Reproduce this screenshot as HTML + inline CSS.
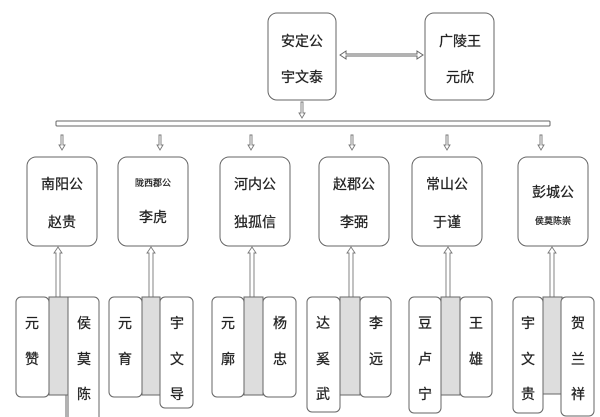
<!DOCTYPE html><html><head><meta charset="utf-8"><style>body{margin:0;background:#fff}svg{display:block}text{font-family:"Liberation Sans","Noto Sans CJK SC",sans-serif;fill:#222;text-anchor:middle;stroke:#222;stroke-width:0.25}</style></head><body>
<svg width="600" height="417" viewBox="0 0 600 417" xmlns="http://www.w3.org/2000/svg">
<g fill="#fff" stroke="#666" stroke-width="1">
<rect x="268" y="13" width="68" height="87" rx="9"/>
<rect x="425" y="13" width="69" height="87" rx="9"/>
<rect x="56" y="121" width="494" height="5" rx="1"/>
<path d="M340 55 L346 51 L346 54 L417 54 L417 51 L423 55 L417 59 L417 56 L346 56 L346 59 Z"/>
<rect x="27" y="157" width="70" height="89" rx="9"/>
<rect x="118" y="157" width="70" height="89" rx="9"/>
<rect x="220" y="157" width="70" height="89" rx="9"/>
<rect x="319" y="157" width="70" height="89" rx="9"/>
<rect x="412" y="157" width="70" height="89" rx="9"/>
<rect x="518" y="157" width="70" height="89" rx="9"/>
</g>
<g fill="#fff" stroke="#777" stroke-width="0.9">
<path d="M301 102 h2 v11 h2 l-3 5 l-3 -5 h2 Z"/>
<path d="M61 135 h2 v10 h2 l-3 5 l-3 -5 h2 Z"/>
<path d="M159 135 h2 v10 h2 l-3 5 l-3 -5 h2 Z"/>
<path d="M250 135 h2 v10 h2 l-3 5 l-3 -5 h2 Z"/>
<path d="M351 135 h2 v10 h2 l-3 5 l-3 -5 h2 Z"/>
<path d="M446 135 h2 v10 h2 l-3 5 l-3 -5 h2 Z"/>
<path d="M540 135 h2 v10 h2 l-3 5 l-3 -5 h2 Z"/>
<path d="M56 297 v-44 h-2 l4 -6 l4 6 h-2 v44 Z"/>
<path d="M149 297 v-44 h-2 l4 -6 l4 6 h-2 v44 Z"/>
<path d="M250 297 v-44 h-2 l4 -6 l4 6 h-2 v44 Z"/>
<path d="M349 297 v-44 h-2 l4 -6 l4 6 h-2 v44 Z"/>
<path d="M446 297 v-44 h-2 l4 -6 l4 6 h-2 v44 Z"/>
<path d="M550 297 v-44 h-2 l4 -6 l4 6 h-2 v44 Z"/>
</g>
<g stroke="#666" stroke-width="1">
<rect x="49" y="297" width="19" height="98" fill="#ddd"/>
<rect x="142" y="297" width="18" height="98" fill="#ddd"/>
<rect x="244" y="297" width="19" height="98" fill="#ddd"/>
<rect x="340" y="297" width="20" height="98" fill="#ddd"/>
<rect x="441" y="297" width="19" height="98" fill="#ddd"/>
<rect x="543" y="297" width="19" height="97" fill="#ddd"/>
<g fill="#fff">
<rect x="16" y="297" width="33" height="100" rx="5"/>
<path d="M68 297 h26 a5 5 0 0 1 5 5 V420 H68 Z"/>
<rect x="109" y="297" width="33" height="100" rx="5"/>
<rect x="160" y="297" width="33" height="111" rx="5"/>
<rect x="212" y="297" width="32" height="100" rx="5"/>
<rect x="263" y="297" width="33" height="100" rx="5"/>
<rect x="307" y="297" width="33" height="115" rx="5"/>
<rect x="360" y="297" width="31" height="100" rx="5"/>
<rect x="409" y="297" width="32" height="116" rx="5"/>
<rect x="460" y="297" width="32" height="100" rx="5"/>
<rect x="513" y="297" width="30" height="116" rx="5"/>
<rect x="561" y="297" width="33" height="119" rx="5"/>
</g>
<line x1="66" y1="395" x2="66" y2="417"/>
</g>
<g font-size="14">
<text x="302" y="46">安定公</text><text x="302" y="82">宇文泰</text>
<text x="460" y="46">广陵王</text><text x="460" y="82">元欣</text>
<text x="62" y="189">南阳公</text><text x="62" y="227">赵贵</text>
<text x="153" y="186" font-size="9">陇西郡公</text><text x="153" y="222">李虎</text>
<text x="255" y="189">河内公</text><text x="255" y="227">独孤信</text>
<text x="354" y="189">赵郡公</text><text x="354" y="227">李弼</text>
<text x="447" y="189">常山公</text><text x="447" y="227">于谨</text>
<text x="553" y="197">彭城公</text><text x="553" y="224" font-size="9">侯莫陈崇</text>
</g>
<g font-size="14">
<text x="32" y="328">元</text><text x="32" y="364">赞</text>
<text x="84" y="328">侯</text><text x="84" y="364">莫</text><text x="84" y="399">陈</text>
<text x="125" y="328">元</text><text x="125" y="364">育</text>
<text x="177" y="328">宇</text><text x="177" y="364">文</text><text x="177" y="399">导</text>
<text x="228" y="328">元</text><text x="228" y="364">廓</text>
<text x="280" y="328">杨</text><text x="280" y="364">忠</text>
<text x="323" y="328">达</text><text x="323" y="364">奚</text><text x="323" y="399">武</text>
<text x="376" y="328">李</text><text x="376" y="364">远</text>
<text x="425" y="328">豆</text><text x="425" y="364">卢</text><text x="425" y="399">宁</text>
<text x="476" y="328">王</text><text x="476" y="364">雄</text>
<text x="528" y="328">宇</text><text x="528" y="364">文</text><text x="528" y="399">贵</text>
<text x="578" y="328">贺</text><text x="578" y="364">兰</text><text x="578" y="399">祥</text>
</g>
</svg></body></html>
